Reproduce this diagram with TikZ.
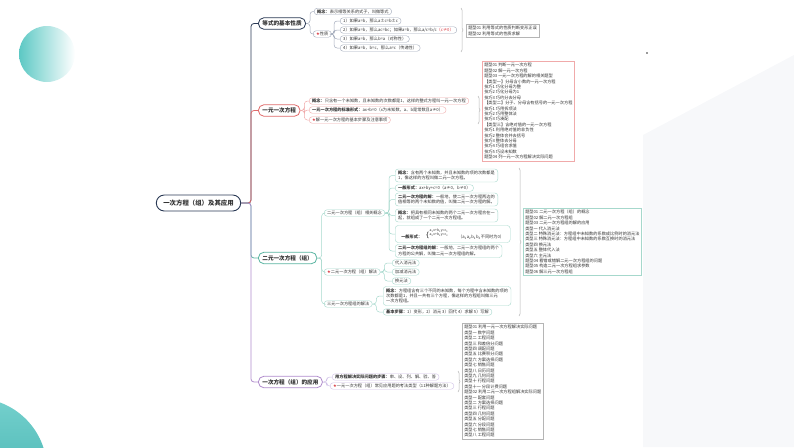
\documentclass[tikz,border=0pt]{standalone}
\usepackage{fontspec}
\setmainfont{Noto Sans CJK SC}
\newfontfamily\symfont{DejaVu Sans}
\usetikzlibrary{decorations.pathreplacing}
\definecolor{navyc}{HTML}{2B3A55}
\definecolor{coralc}{HTML}{E06B6B}
\definecolor{tealc}{HTML}{5BB5A2}
\definecolor{purpc}{HTML}{B08CCC}
\definecolor{navyl}{HTML}{A3ABBB}
\definecolor{corall}{HTML}{F0AAAA}
\definecolor{teall}{HTML}{A6D8CC}
\definecolor{purpl}{HTML}{CFC0E6}
\definecolor{txtc}{HTML}{333333}
\definecolor{starc}{HTML}{D9363E}
\definecolor{bracec}{HTML}{B5B5B5}
\definecolor{decoc}{HTML}{5CC8C4}
\definecolor{bgc}{HTML}{F7F8FA}
\newcommand\fs[2]{\fontsize{#1}{#2}\selectfont}
\newcommand\redstar{{\symfont\color{starc}★}}
\newcommand\sbt[1]{\textsubscript{#1}}
\begin{document}
\begin{tikzpicture}[x=1pt,y=-1pt,
  rootbox/.style={draw=navyc, line width=0.9pt, rounded corners=8pt, minimum height=16pt, inner xsep=7pt, inner ysep=0pt, font=\fs{6.4}{7}\bfseries, text=txtc, fill=white},
  branch/.style={rounded corners=5.5pt, line width=0.8pt, minimum height=11.5pt, inner xsep=4pt, inner ysep=0pt, font=\fs{5.6}{6.5}\bfseries, text=txtc, fill=white, anchor=west},
  leaf/.style={rounded corners=3pt, line width=0.4pt, minimum height=6.5pt, inner xsep=3pt, inner ysep=1pt, font=\fs{4.2}{5.3}, text=txtc, anchor=west, align=left, fill=white},
  lst/.style={draw, line width=0.5pt, inner xsep=2pt, inner ysep=2pt, font=\fs{4.2}{5.4}, align=left, anchor=north west, text=txtc, fill=white},
  conn/.style={rounded corners=3pt, line width=#1},
  conn/.default=0.8pt,
  brc/.style={decorate, decoration={brace, amplitude=2pt}, draw=bracec, line width=0.5pt}
]
\useasboundingbox (0,0) rectangle (794,447);
\begin{scope}
\clip (0,0) rectangle (794,447);
\fill[bgc] (643,135) -- (794,55) -- (794,447) -- (643,447) -- cycle;
\shade[left color=decoc, right color=white] (47,54) ellipse [x radius=28, y radius=28];
\shade[top color=decoc!85, bottom color=decoc!55!teal] (-25,470) circle [radius=72];
\fill[txtc] (647,53) circle [radius=0.9];
\end{scope}

% root and branches
\node[rootbox] (root) at (198.5,203) {一次方程（组）及其应用};
\coordinate (tr) at (251,203);
\node[branch, draw=navyc] (b1) at (258,23.5) {等式的基本性质};
\node[branch, draw=coralc] (b2) at (258,110.5) {一元一次方程};
\node[branch, draw=tealc] (b3) at (258,258) {二元一次方程（组）};
\node[branch, draw=purpc] (b4) at (258,382) {一次方程（组）的应用};
\draw[conn, navyc] (root.east) -- (tr) |- (b1.west);
\draw[conn, coralc] (root.east) -- (tr) |- (b2.west);
\draw[conn, tealc] (root.east) -- (tr) |- (b3.west);
\draw[conn, purpc] (root.east) -- (tr) |- (b4.west);

% branch 1
\node[leaf, draw=navyl] (c11) at (314,11.5) {\textbf{概念：}表示相等关系的式子，叫做等式};
\node[leaf, draw=navyl] (c12) at (313,34) {\redstar 性质};
\node[leaf, draw=navyl] (p1) at (340,21) {1）如果a=b，那么a±c=b±c};
\node[leaf, draw=navyl] (p2) at (340,30) {2）如果a=b，那么ac=bc；如果a=b，那么a/c=b/c\textcolor{starc}{（c≠0）}};
\node[leaf, draw=navyl] (p3) at (340,39) {3）如果a=b，那么b=a（对称性）};
\node[leaf, draw=navyl] (p4) at (340,48) {4）如果a=b，b=c，那么a=c（传递性）};
\foreach \n in {c11,c12} \draw[conn=0.5pt, navyl] (b1.east) -- ++(4,0) |- (\n.west);
\foreach \n in {p1,p2,p3,p4} \draw[conn=0.5pt, navyl] (c12.east) -- ++(2.5,0) |- (\n.west);
\draw[brc] (461,8) -- (461,52);
\node[lst, draw=bracec] (l1) at (466,24) {题型01 利用等式的性质判断变形正误\\题型02 利用等式的性质求解};

% branch 2
\node[leaf, draw=corall] (c21) at (309,101) {\textbf{概念：}只含有一个未知数，且未知数的次数都是1，这样的整式方程叫一元一次方程};
\node[leaf, draw=corall] (c22) at (309,110) {\textbf{一元一次方程的标准形式：}ax+b=0（x为未知数，a、b是常数且a≠0）};
\node[leaf, draw=corall] (c23) at (309,120) {\redstar 解一元一次方程的基本步骤及注意事项};
\foreach \n in {c21,c22,c23} \draw[conn=0.5pt, corall] (b2.east) -- ++(4,0) |- (\n.west);
\draw[brc] (478,96) -- (478,124);
\node[lst, draw=corall] (l2) at (482,61) {题型01 判断一元一次方程\\题型02 解一元一次方程\\题型03 一元一次方程的解的相关题型\\【类型一】分母含小数的一元一次方程\\技巧1 巧化分母为整\\技巧2 巧化分母为1\\技巧3 巧约分去分母\\【类型二】分子、分母含有括号的一元一次方程\\技巧1 巧用拆项法\\技巧2 巧用整体法\\技巧3 巧凑配\\【类型三】含绝对值的一元一次方程\\技巧1 利用绝对值的非负性\\技巧2 整体合并去括号\\技巧3 整体去分母\\技巧4 巧组合求值\\技巧5 巧设未知数\\题型04 列一元一次方程解决实际问题};

% branch 3
\node[leaf, draw=teall] (d1) at (324,213) {二元一次方程（组）相关概念};
\node[leaf, draw=teall] (d2) at (324,272) {\redstar 二元一次方程（组）解法};
\node[leaf, draw=teall] (d3) at (324,304) {三元一次方程组的解法};
\foreach \n in {d1,d2,d3} \draw[conn=0.5pt, teall] (b3.east) -- ++(4.5,0) |- (\n.west);
\node[leaf, draw=teall, minimum height=13pt] (e1) at (395,175.5) {\textbf{概念：}含有两个未知数，并且未知数的项的次数都是\\1，像这样的方程叫做二元一次方程。};
\node[leaf, draw=teall] (e2) at (395,188) {\textbf{一般形式：}ax+by+c=0（a≠0，b≠0）};
\node[leaf, draw=teall, minimum height=13pt] (e3) at (395,199.5) {\textbf{二元一次方程的解：}一般地，使二元一次方程两边的\\值相等的两个未知数的值，叫做二元一次方程的解。};
\node[leaf, draw=teall, minimum height=13pt] (e4) at (395,215.5) {\textbf{概念：}把具有相同未知数的两个二元一次方程合在一\\起，就组成了一个二元一次方程组。};
\node[leaf, draw=teall, minimum height=17pt, minimum width=115pt] (e5) at (395,234) {\textbf{一般形式：}\hspace{3pt}\raisebox{1.2pt}{\fs{7}{7}\symfont\{}\raisebox{4.3pt}{\fs{3.4}{3.9}\begin{tabular}[c]{@{}l@{}}a\sbt{1}x+b\sbt{1}y=c\sbt{1}\\a\sbt{2}x+b\sbt{2}y=c\sbt{2}\end{tabular}}\hspace{10pt}（a\sbt{1}a\sbt{2}b\sbt{1}b\sbt{2}不同时为0）};
\node[leaf, draw=teall, minimum height=13pt] (e6) at (395,251) {\textbf{二元一次方程组的解：}一般地，二元一次方程组的两个\\方程的公共解，叫做二元一次方程组的解。};
\foreach \n in {e1,e2,e3,e4,e5,e6} \draw[conn=0.5pt, teall] (d1.east) -- ++(4,0) |- (\n.west);
\node[leaf, draw=teall] (f1) at (392,263) {代入消元法};
\node[leaf, draw=teall] (f2) at (392,272) {加减消元法};
\node[leaf, draw=teall] (f3) at (392,281) {换元法};
\foreach \n in {f1,f2,f3} \draw[conn=0.5pt, teall] (d2.east) -- ++(4,0) |- (\n.west);
\node[leaf, draw=teall, minimum height=19pt] (g1) at (383,296) {\textbf{概念：}方程组含有三个不同的未知数，每个方程中含未知数的项的\\次数都是1，并且一共有三个方程，像这样的方程组叫做三元\\一次方程组。};
\node[leaf, draw=teall] (g2) at (383,312) {\textbf{基本步骤：}1）变形，2）消元 3）回代 4）求解 5）写解};
\foreach \n in {g1,g2} \draw[conn=0.5pt, teall] (d3.east) -- ++(4,0) |- (\n.west);
\draw[brc] (519,168) -- (519,316);
\node[lst, draw=teall] (l3) at (523,208) {题型01 二元一次方程（组）的概念\\题型02 解二元一次方程组\\题型03 二元一次方程组的解的应用\\类型一 代入消元法\\类型二 特殊消元法：方程组中未知数的系数成比例时的消元法\\类型三 特殊消元法：方程组中未知数的系数互换时的消元法\\类型四 换元法\\类型五 整体代入法\\类型六 主元法\\题型04 看错或错解二元一次方程组的问题\\题型05 构造二元一次方程组求参数\\题型06 解三元一次方程组};

% branch 4
\node[leaf, draw=purpl] (h1) at (332,377) {\textbf{用方程解决实际问题的步骤：}审、设、列、解、验、答};
\node[leaf, draw=purpl] (h2) at (330,386) {\redstar 一元一次方程（组）常见应用题的考法类型（11种解题方法）};
\foreach \n in {h1,h2} \draw[conn=0.5pt, purpl] (b4.east) -- ++(4,0) |- (\n.west);
\draw[brc] (458,371) -- (458,392);
\node[lst, draw=bracec] (l4) at (462,323) {题型01 利用一元一次方程解决实际问题\\类型一 数字问题\\类型二 工程问题\\类型三 和差倍分问题\\类型四 调配问题\\类型五 比赛积分问题\\类型六 方案选择问题\\类型七 销售问题\\类型八 日历问题\\类型九 几何问题\\类型十 行程问题\\类型十一 分段计费问题\\题型02 利用二元一次方程组解决实际问题\\类型一 配套问题\\类型二 方案选择问题\\类型三 行程问题\\类型四 几何问题\\类型五 分配问题\\类型六 分段问题\\类型七 销售问题\\类型八 工程问题};
\end{tikzpicture}
\end{document}
